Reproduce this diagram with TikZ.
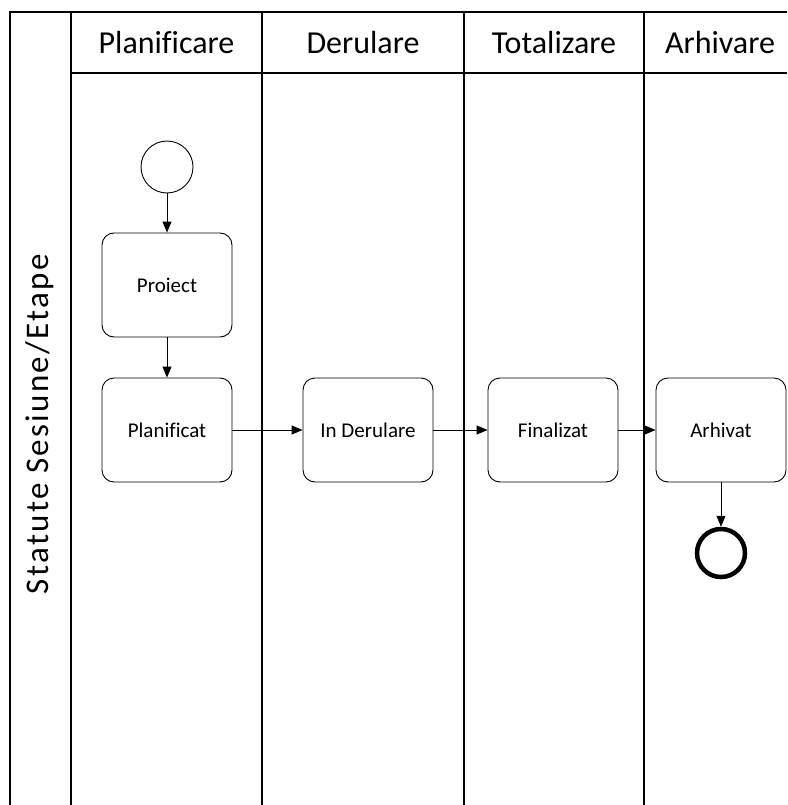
\documentclass[tikz,border=0pt]{standalone}
\usepackage{fontspec}
\setmainfont[Ligatures=NoCommon]{Carlito}
\newfontfamily\poolfont[Ligatures=NoCommon,LetterSpace=7]{Carlito}
\usetikzlibrary{arrows.meta}
\begin{document}
\begin{tikzpicture}[x=1pt,y=-1pt,
  lane/.style={line width=1.3pt},
  head/.style={font=\fontsize{32}{37}\selectfont, anchor=center, inner sep=0pt},
  poolhead/.style={font=\poolfont\fontsize{33}{38}\selectfont, anchor=center, inner sep=0pt, rotate=90},
  task/.style={draw, line width=0.9pt, rounded corners=12pt, minimum width=130pt,
    minimum height=104pt, inner sep=0pt, font=\fontsize{21}{25}\selectfont},
  startev/.style={draw, circle, line width=0.9pt, minimum size=52pt, inner sep=0pt},
  endev/.style={draw, circle, line width=4.5pt, minimum size=48pt, inner sep=0pt},
  flow/.style={line width=0.9pt, -{Triangle[length=11pt,width=9pt]}}
]
\useasboundingbox (0,0) rectangle (787,805);

% pool frame and lanes
\draw[lane] (787,12) -- (10,12) -- (10,805);
\draw[lane] (71,12) -- (71,805);
\draw[lane] (71,73) -- (787,73);
\draw[lane] (262,12) -- (262,805);
\draw[lane] (464,12) -- (464,805);
\draw[lane] (644,12) -- (644,805);

% headers
\node[poolhead] (hpool) at (40,424) {Statute Sesiune/Etape};
\node[head] (h1) at (166.5,43) {Planificare};
\node[head] (h2) at (363,43) {Derulare};
\node[head] (h3) at (554,43) {Totalizare};
\node[head] (h4) at (720,43) {Arhivare};

% events and tasks
\node[startev] (start) at (167,167) {};
\node[task] (proiect) at (167,285) {Proiect};
\node[task] (planif) at (167,430) {Planificat};
\node[task] (derul) at (368,430) {In Derulare};
\node[task] (final) at (553,430) {Finalizat};
\node[task] (arhiv) at (721,430) {Arhivat};
\node[endev] (end) at (721,553) {};

% sequence flows
\draw[flow] (start) -- (proiect);
\draw[flow] (proiect) -- (planif);
\draw[flow] (planif) -- (derul);
\draw[flow] (derul) -- (final);
\draw[flow] (final) -- (arhiv);
\draw[flow] (arhiv) -- (end);
\end{tikzpicture}
\end{document}
